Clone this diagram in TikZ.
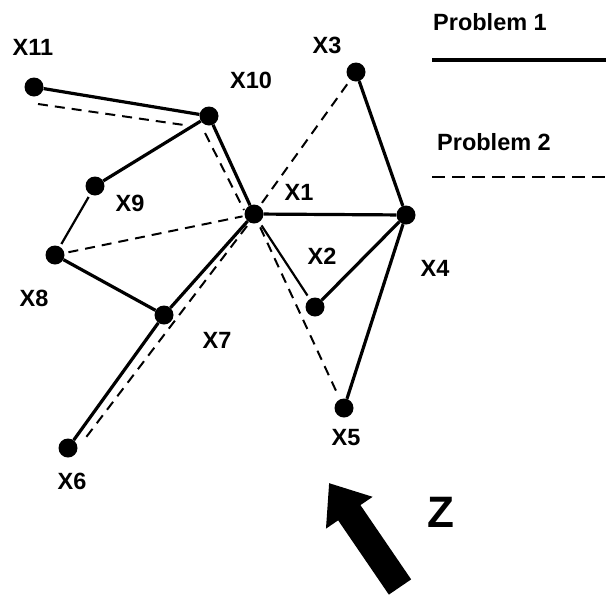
\documentclass[tikz,border=0pt]{standalone}
\usepackage{fontspec}
\setsansfont{Liberation Sans}
\usetikzlibrary{arrows.meta}

\begin{document}
\begin{tikzpicture}[x=1pt, y=-1pt, font={\sffamily\bfseries\fontsize{23.5}{26}\selectfont},
    dot/.style={circle, fill, inner sep=0pt, minimum size=19pt},
    lbl/.style={inner sep=0pt},
    probone/.style={line width=3.2pt},
    probthin/.style={line width=2.2pt},
    probtwo/.style={line width=2pt, dash pattern=on 10pt off 7pt}]

  \useasboundingbox (0,0) rectangle (606,595);

  % points
  \node[dot] (x1)  at (254,214) {};
  \node[dot] (x2)  at (315,307) {};
  \node[dot] (x3)  at (356,72)  {};
  \node[dot] (x4)  at (406,215) {};
  \node[dot] (x5)  at (344,408) {};
  \node[dot] (x6)  at (68,448)  {};
  \node[dot] (x7)  at (164,315) {};
  \node[dot] (x8)  at (55,255)  {};
  \node[dot] (x9)  at (95,186)  {};
  \node[dot] (x10) at (209,116) {};
  \node[dot] (x11) at (34,87)   {};

  % labels
  \node[lbl] (l1)  at (299,192) {X1};
  \node[lbl] (l2)  at (322,256) {X2};
  \node[lbl] (l3)  at (327,45)  {X3};
  \node[lbl] (l4)  at (435,268) {X4};
  \node[lbl] (l5)  at (346,438) {X5};
  \node[lbl] (l6)  at (72,481)  {X6};
  \node[lbl] (l7)  at (217,340) {X7};
  \node[lbl] (l8)  at (34,298)  {X8};
  \node[lbl] (l9)  at (130,203) {X9};
  \node[lbl] (l10) at (251,80)  {X10};
  \node[lbl] (l11) at (33,47)   {X11};

  % problem 1
  \draw[probone] (x11) -- (x10);
  \draw[probone] (x10) -- (x9);
  \draw[probone] (x10) -- (x1);
  \draw[probone] (x8) -- (x7);
  \draw[probone] (x7) -- (x1);
  \draw[probone] (x7) -- (x6);
  \draw[probone] (x1) -- (x4);
  \draw[probone] (x2) -- (x4);
  \draw[probone] (x3) -- (x4);
  \draw[probone] (x4) -- (x5);
  \draw[probthin, shorten <=3pt, shorten >=3pt] (x9) -- (x8);
  \draw[probthin, shorten <=4pt, shorten >=4pt] (x1) -- (x2);

  % problem 2
  \draw[probtwo] ([shift={(4,17)}]x11.center) -- ([shift={(-25,9)}]x10.center);
  \draw[probtwo] ([shift={(-4,17)}]x10.center) -- ([shift={(-10,-4)}]x1.center);
  \draw[probtwo] ([shift={(-7,12)}]x1.center) -- ([shift={(16,-8)}]x6.center);
  \draw[probtwo, shorten <=4pt, shorten >=4pt] (x1) -- (x3);
  \draw[probtwo, shorten <=4pt, shorten >=2pt] (x8) -- (x1);
  \draw[probtwo, shorten <=5pt, shorten >=6pt] (x1) -- (x5);

  % legend
  \node[lbl] (p1) at (490,22)  {Problem 1};
  \node[lbl] (p2) at (494,142) {Problem 2};
  \coordinate (p1a) at (432,60);
  \coordinate (p1b) at (606,60);
  \coordinate (p2a) at (432,177);
  \coordinate (p2b) at (606,177);
  \draw[line width=3.4pt] (p1a) -- (p1b);
  \draw[line width=2.2pt, dash pattern=on 13pt off 7pt] (p2a) -- (p2b);

  % direction z
  \coordinate (zend) at (400,587);
  \coordinate (ztip) at (329,483);
  \draw[line width=27pt, -{Triangle[length=36pt, width=54pt]}] (zend) -- (ztip);
  \node[lbl, font={\sffamily\bfseries\fontsize{44}{46}\selectfont}] (z) at (441,512) {Z};
\end{tikzpicture}
\end{document}
